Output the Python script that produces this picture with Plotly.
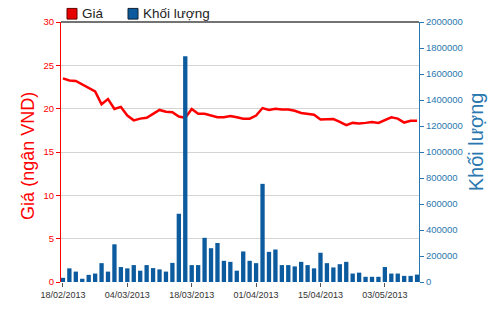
import plotly.graph_objects as go

dates = [
    "18/02/2013", "19/02/2013", "20/02/2013", "21/02/2013", "22/02/2013",
    "25/02/2013", "26/02/2013", "27/02/2013", "28/02/2013", "01/03/2013",
    "04/03/2013", "05/03/2013", "06/03/2013", "07/03/2013", "08/03/2013",
    "11/03/2013", "12/03/2013", "13/03/2013", "14/03/2013", "15/03/2013",
    "18/03/2013", "19/03/2013", "20/03/2013", "21/03/2013", "22/03/2013",
    "25/03/2013", "26/03/2013", "27/03/2013", "28/03/2013", "29/03/2013",
    "01/04/2013", "02/04/2013", "03/04/2013", "04/04/2013", "05/04/2013",
    "08/04/2013", "09/04/2013", "10/04/2013", "11/04/2013", "12/04/2013",
    "15/04/2013", "16/04/2013", "17/04/2013", "18/04/2013",
    "22/04/2013", "23/04/2013", "24/04/2013", "25/04/2013", "26/04/2013",
    "02/05/2013", "03/05/2013",
    "06/05/2013", "07/05/2013", "08/05/2013", "09/05/2013", "10/05/2013",
]

price = [
    23.5, 23.25, 23.2, 22.8, 22.47, 22.0, 20.5, 21.1, 19.96, 20.2,
    19.2, 18.65, 18.85, 18.95, 19.4, 19.85, 19.65, 19.6, 19.1, 18.95,
    19.96, 19.4, 19.4, 19.2, 19.0, 19.0, 19.15, 19.0, 18.85, 18.85,
    19.2, 20.07, 19.85, 20.0, 19.9, 19.9, 19.75, 19.5, 19.4, 19.3,
    18.75, 18.75, 18.8, 18.47, 18.1, 18.36, 18.3, 18.36, 18.47, 18.36,
    18.65, 19.0, 18.85, 18.4, 18.6, 18.6,
]

volume = [
    32000, 105000, 80000, 25000, 55000, 65000, 145000, 80000, 290000, 115000,
    105000, 130000, 87000, 130000, 107000, 97000, 80000, 147000, 525000, 1737000,
    130000, 130000, 340000, 260000, 300000, 163000, 155000, 87000, 235000, 163000,
    145000, 755000, 232000, 250000, 130000, 130000, 120000, 155000, 130000, 105000,
    225000, 145000, 112000, 137000, 155000, 65000, 72000, 40000, 40000, 40000,
    115000, 65000, 65000, 47000, 47000, 57000,
]

tick_dates = ["18/02/2013", "04/03/2013", "18/03/2013", "01/04/2013", "15/04/2013", "03/05/2013"]

RED = "#ff0000"
BLUE = "#0b5b9e"
AXBLUE = "#2a78b0"
REG = "Liberation Sans, Arial, sans-serif"

fig = go.Figure()
fig.add_trace(go.Scatter(
    x=dates, y=price, mode="lines", name="Giá",
    line=dict(color=RED, width=2.5), yaxis="y", showlegend=False,
))
fig.add_trace(go.Bar(
    x=dates, y=volume, name="Khối lượng", marker=dict(color=BLUE, line=dict(width=0)),
    yaxis="y2", showlegend=False,
))

fig.update_layout(
    width=500, height=312,
    margin=dict(l=61, r=81, t=22, b=22),
    paper_bgcolor="white", plot_bgcolor="white",
    bargap=0.33,
    xaxis=dict(
        type="category", categoryorder="array", categoryarray=dates,
        range=[-0.3, len(dates) - 0.7],
        tickvals=tick_dates, ticktext=tick_dates,
        ticks="outside", ticklen=4, tickcolor="#555",
        tickfont=dict(family=REG, size=9, color="#333"),
        showgrid=False, showline=False, zeroline=False,
    ),
    yaxis=dict(
        range=[0, 30], dtick=5, tick0=0,
        showline=True, linecolor=RED, linewidth=1,
        ticks="outside", ticklen=4, tickcolor=RED,
        tickfont=dict(family=REG, size=9.5, color=RED),
        showgrid=True, gridcolor="#d4d4d4", gridwidth=1,
        zeroline=False,
    ),
    yaxis2=dict(
        range=[0, 2000000], dtick=200000, tick0=0, tickformat="d",
        overlaying="y", side="right",
        showline=True, linecolor=AXBLUE, linewidth=1,
        ticks="outside", ticklen=4, tickcolor=AXBLUE,
        tickfont=dict(family=REG, size=9.5, color=AXBLUE),
        showgrid=False, zeroline=False,
    ),
    shapes=[
        dict(type="line", xref="paper", yref="paper", x0=0, x1=1, y0=1, y1=1,
             line=dict(color="#444", width=1.5)),
        dict(type="rect", xref="paper", yref="paper",
             x0=(67 - 61) / 358, x1=(77 - 61) / 358,
             y0=(290 - 19) / 268, y1=(290 - 8) / 268,
             fillcolor="#e60000", line=dict(color="#600", width=1)),
        dict(type="rect", xref="paper", yref="paper",
             x0=(128 - 61) / 358, x1=(138 - 61) / 358,
             y0=(290 - 19) / 268, y1=(290 - 8) / 268,
             fillcolor=BLUE, line=dict(color="#123", width=1)),
    ],
    annotations=[
        dict(text="Giá", xref="paper", yref="paper",
             x=(80 - 61) / 358, y=(290 - 13.5) / 268, xanchor="left", yanchor="middle",
             showarrow=False, font=dict(family=REG, size=13.5, color="#222")),
        dict(text="Khối lượng", xref="paper", yref="paper",
             x=(141 - 61) / 358, y=(290 - 13.5) / 268, xanchor="left", yanchor="middle",
             showarrow=False, font=dict(family=REG, size=13.5, color="#222")),
        dict(text="Giá (ngân VND)", xref="paper", yref="paper", textangle=-90,
             x=(28 - 61) / 358, y=(290 - 160) / 268, xanchor="center", yanchor="middle",
             showarrow=False, font=dict(family=REG, size=18, color=RED)),
        dict(text="Khối lượng", xref="paper", yref="paper", textangle=-90,
             x=(476 - 61) / 358, y=(290 - 146) / 268, xanchor="center", yanchor="middle",
             showarrow=False, font=dict(family=REG, size=20, color=AXBLUE)),
    ],
)

fig.write_html("out.html")
